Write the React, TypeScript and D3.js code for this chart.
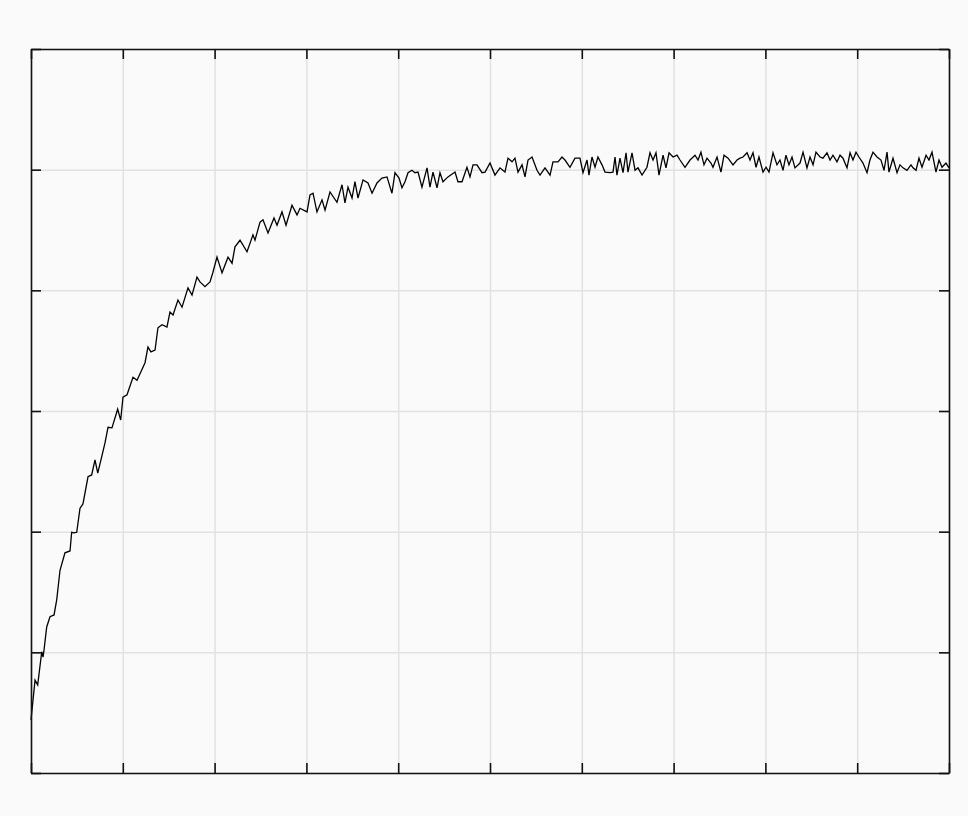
import React, { useEffect, useRef } from "react";
import * as d3 from "d3";

// Time axis (arbitrary units, 0..10) and response values
const time: number[] = [
  0, 0.044, 0.073, 0.117, 0.131, 0.142, 0.171, 0.207, 0.251, 0.28, 0.316, 0.37, 0.425, 0.443, 0.468, 0.498,
  0.534, 0.566, 0.621, 0.661, 0.697, 0.727, 0.77, 0.806, 0.839, 0.882, 0.944, 0.977, 1.002, 1.046, 1.111,
  1.155, 1.242, 1.274, 1.307, 1.351, 1.383, 1.427, 1.481, 1.514, 1.547, 1.601, 1.645, 1.71, 1.754, 1.808,
  1.841, 1.895, 1.95, 1.982, 2.026, 2.081, 2.146, 2.19, 2.222, 2.277, 2.353, 2.418, 2.44, 2.495, 2.527,
  2.582, 2.647, 2.68, 2.734, 2.778, 2.843, 2.898, 2.93, 3.007, 3.039, 3.072, 3.115, 3.17, 3.203, 3.257,
  3.333, 3.388, 3.42, 3.453, 3.497, 3.529, 3.562, 3.617, 3.671, 3.715, 3.769, 3.823, 3.878, 3.932, 3.965,
  4.009, 4.041, 4.074, 4.107, 4.15, 4.183, 4.216, 4.259, 4.314, 4.346, 4.379, 4.423, 4.455, 4.488, 4.542,
  4.619, 4.651, 4.695, 4.749, 4.782, 4.815, 4.858, 4.913, 4.946, 5.0, 5.054, 5.109, 5.163, 5.196, 5.24,
  5.272, 5.305, 5.349, 5.381, 5.414, 5.458, 5.512, 5.545, 5.599, 5.654, 5.686, 5.741, 5.784, 5.817, 5.871,
  5.926, 5.98, 6.013, 6.057, 6.078, 6.111, 6.144, 6.176, 6.22, 6.253, 6.307, 6.34, 6.362, 6.383, 6.416,
  6.449, 6.482, 6.503, 6.547, 6.58, 6.612, 6.656, 6.71, 6.743, 6.776, 6.808, 6.841, 6.885, 6.917, 6.95,
  6.994, 7.037, 7.07, 7.124, 7.179, 7.233, 7.266, 7.298, 7.331, 7.364, 7.407, 7.429, 7.473, 7.516, 7.549,
  7.593, 7.647, 7.691, 7.723, 7.756, 7.8, 7.832, 7.865, 7.898, 7.93, 7.974, 8.007, 8.039, 8.083, 8.126,
  8.159, 8.192, 8.224, 8.257, 8.29, 8.322, 8.377, 8.41, 8.453, 8.486, 8.519, 8.551, 8.595, 8.627, 8.671,
  8.704, 8.736, 8.78, 8.813, 8.845, 8.889, 8.922, 8.954, 8.987, 9.019, 9.063, 9.107, 9.139, 9.172, 9.216,
  9.259, 9.292, 9.325, 9.346, 9.39, 9.434, 9.466, 9.499, 9.542, 9.586, 9.608, 9.641, 9.673, 9.706, 9.75,
  9.782, 9.815, 9.858, 9.891, 9.924, 9.967, 10.0,
];

const response: number[] = [
  0.088, 0.154, 0.146, 0.201, 0.192, 0.204, 0.242, 0.259, 0.262, 0.287, 0.336, 0.365, 0.368, 0.399, 0.398, 0.399,
  0.439, 0.446, 0.491, 0.494, 0.519, 0.497, 0.524, 0.547, 0.573, 0.572, 0.603, 0.585, 0.623, 0.627, 0.656,
  0.651, 0.68, 0.706, 0.698, 0.701, 0.738, 0.743, 0.739, 0.764, 0.759, 0.784, 0.772, 0.804, 0.792, 0.822,
  0.814, 0.806, 0.814, 0.83, 0.855, 0.829, 0.855, 0.845, 0.872, 0.883, 0.864, 0.892, 0.883, 0.913, 0.917,
  0.895, 0.92, 0.908, 0.93, 0.908, 0.941, 0.925, 0.936, 0.93, 0.958, 0.961, 0.93, 0.95, 0.933, 0.963,
  0.946, 0.975, 0.945, 0.971, 0.953, 0.98, 0.953, 0.983, 0.978, 0.961, 0.978, 0.986, 0.988, 0.961, 0.995,
  0.986, 0.97, 0.98, 0.995, 0.999, 0.995, 0.996, 0.971, 1.003, 0.971, 0.996, 0.97, 0.995, 0.98, 0.988,
  0.996, 0.98, 0.98, 1.004, 0.988, 1.008, 1.008, 0.995, 0.996, 1.011, 0.991, 1.003, 0.996, 1.019, 1.013,
  1.019, 0.996, 1.008, 0.988, 1.016, 1.021, 0.999, 0.991, 1.003, 0.991, 1.013, 1.013, 1.021, 1.016, 1.004,
  1.019, 1.019, 0.995, 1.016, 0.991, 1.021, 1.004, 1.021, 1.008, 0.996, 0.995, 0.996, 1.021, 0.991, 1.019,
  0.995, 1.028, 0.996, 1.028, 0.999, 1.003, 0.991, 1.004, 1.028, 1.016, 1.028, 0.991, 1.024, 1.003, 1.028,
  1.021, 1.024, 1.016, 1.004, 1.016, 1.024, 1.016, 1.029, 1.008, 1.019, 1.011, 1.004, 1.021, 0.996, 1.024,
  1.019, 1.008, 1.016, 1.019, 1.021, 1.028, 1.016, 1.028, 1.004, 1.021, 0.996, 1.004, 0.996, 1.028, 1.008,
  1.016, 0.999, 1.024, 1.008, 1.021, 1.003, 1.011, 1.029, 1.003, 1.021, 1.008, 1.029, 1.021, 1.019, 1.028,
  1.016, 1.024, 1.013, 1.024, 1.019, 1.003, 1.028, 1.016, 1.029, 1.021, 1.011, 0.995, 1.016, 1.029, 1.021,
  1.016, 0.999, 1.029, 0.996, 1.019, 0.995, 1.008, 1.003, 0.999, 1.008, 1.003, 0.999, 1.019, 1.004, 1.024,
  1.016, 1.029, 0.996, 1.016, 1.004, 1.011, 1.003,
];

const xDomain: [number, number] = [0, 10];
const yDomain: [number, number] = [0, 1.2];
const xTickCount = 10;
const yTickCount = 6;

const W = 968;
const H = 816;
const M = { top: 49, right: 19, bottom: 43, left: 31 };

export default function App() {
  const ref = useRef<SVGSVGElement | null>(null);

  useEffect(() => {
    const svg = d3.select(ref.current);
    svg.selectAll("*").remove();
    const iw = W - M.left - M.right;
    const ih = H - M.top - M.bottom;

    const x = d3.scaleLinear().domain(xDomain).range([0, iw]);
    const y = d3.scaleLinear().domain(yDomain).range([ih, 0]);

    svg.append("rect").attr("width", W).attr("height", H).attr("fill", "#fafafa");

    const g = svg.append("g").attr("transform", `translate(${M.left},${M.top})`);

    // grid
    const gx = g
      .append("g")
      .attr("transform", `translate(0,${ih})`)
      .call(d3.axisBottom(x).ticks(xTickCount).tickSize(-ih).tickFormat(() => ""));
    const gy = g
      .append("g")
      .call(d3.axisLeft(y).ticks(yTickCount).tickSize(-iw).tickFormat(() => ""));
    [gx, gy].forEach((a) => {
      a.select(".domain").remove();
      a.selectAll(".tick line").attr("stroke", "#e2e2e2").attr("stroke-width", 1.5);
    });

    // data line
    const pts = time.map((t, i) => [t, response[i]] as [number, number]);
    const line = d3
      .line<[number, number]>()
      .x((d) => x(d[0]))
      .y((d) => y(d[1]));
    g.append("path")
      .datum(pts)
      .attr("d", line)
      .attr("fill", "none")
      .attr("stroke", "#000")
      .attr("stroke-width", 1.3)
      .attr("stroke-linejoin", "miter");

    // frame axes with inward ticks
    const styleAxis = (a: any) => {
      a.select(".domain").attr("stroke", "#111").attr("stroke-width", 1.6);
      a.selectAll(".tick line").attr("stroke", "#111").attr("stroke-width", 1.6);
      a.selectAll(".tick text").remove();
    };
    const tl = 10;
    g.append("g")
      .attr("transform", `translate(0,${ih})`)
      .call(d3.axisBottom(x).ticks(xTickCount).tickSize(-tl).tickSizeOuter(0).tickFormat(() => ""))
      .call(styleAxis);
    g.append("g")
      .call(d3.axisTop(x).ticks(xTickCount).tickSize(-tl).tickSizeOuter(0).tickFormat(() => ""))
      .call(styleAxis);
    g.append("g")
      .call(d3.axisLeft(y).ticks(yTickCount).tickSize(-tl).tickSizeOuter(0).tickFormat(() => ""))
      .call(styleAxis);
    g.append("g")
      .attr("transform", `translate(${iw},0)`)
      .call(d3.axisRight(y).ticks(yTickCount).tickSize(-tl).tickSizeOuter(0).tickFormat(() => ""))
      .call(styleAxis);
  }, []);

  return (
    <div style={{ position: "fixed", left: 0, top: 0, width: W, height: H, background: "#fafafa" }}>
      <svg ref={ref} width={W} height={H} style={{ display: "block" }} />
    </div>
  );
}
